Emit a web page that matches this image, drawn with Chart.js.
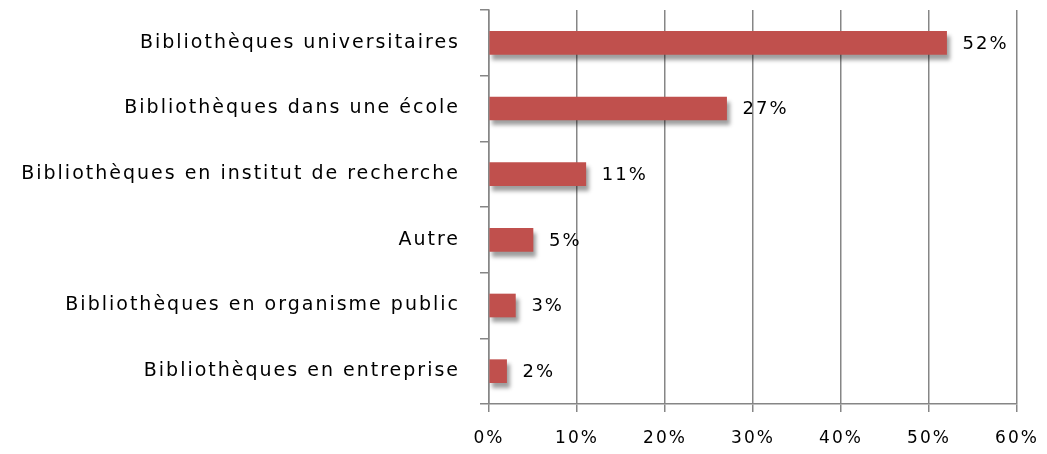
<!DOCTYPE html>
<html>
<head>
<meta charset="utf-8">
<script src="https://cdn.jsdelivr.net/npm/chart.js@4"></script>
<style>
  html, body { margin: 0; padding: 0; background: #fff; }
  #wrap { width: 1047px; height: 454px; }
</style>
</head>
<body>
<div id="wrap"><canvas id="chart" width="1047" height="454"></canvas></div>
<script>
// chart data
const categories = [
  'Bibliothèques universitaires',
  'Bibliothèques dans une école',
  'Bibliothèques en institut de recherche',
  'Autre',
  'Bibliothèques en organisme public',
  'Bibliothèques en entreprise'
];
const shares = [52, 27, 11, 5, 3, 2];
const xTicks = [0, 10, 20, 30, 40, 50, 60];

const FONT = 'DejaVu Sans';
const GRID = '#868686';

// the reference text is widely spaced
const spacing = {
  id: 'spacing',
  beforeLayout(chart) { chart.ctx.letterSpacing = '2px'; },
  beforeDraw(chart) { chart.ctx.letterSpacing = '2px'; }
};

// soft drop shadow under the bars
const barShadow = {
  id: 'barShadow',
  beforeDatasetsDraw(chart) {
    const ctx = chart.ctx;
    ctx.save();
    ctx.shadowColor = 'rgba(0,0,0,0.38)';
    ctx.shadowOffsetX = 3;
    ctx.shadowOffsetY = 5;
    ctx.shadowBlur = 4;
  },
  afterDatasetsDraw(chart) {
    chart.ctx.restore();
  }
};

// value labels at the end of each bar
const endLabels = {
  id: 'endLabels',
  afterDatasetsDraw(chart) {
    const ctx = chart.ctx;
    const meta = chart.getDatasetMeta(0);
    ctx.save();
    ctx.font = '18px "' + FONT + '"';
    ctx.fillStyle = '#000';
    ctx.textAlign = 'left';
    ctx.textBaseline = 'middle';
    meta.data.forEach((bar, i) => {
      ctx.fillText(shares[i] + '%', bar.x + 16, bar.y + 1);
    });
    ctx.restore();
  }
};

new Chart(document.getElementById('chart'), {
  type: 'bar',
  data: {
    labels: categories,
    datasets: [{
      data: shares,
      backgroundColor: '#C0504D',
      borderWidth: 0,
      barThickness: 23
    }]
  },
  options: {
    indexAxis: 'y',
    responsive: false,
    animation: false,
    layout: { padding: { left: 0, right: 30, top: 10, bottom: 0 } },
    plugins: { legend: { display: false }, tooltip: { enabled: false } },
    scales: {
      x: {
        min: 0,
        max: 60,
        afterBuildTicks: s => { s.ticks = xTicks.map(v => ({ value: v })); },
        afterFit: s => { s.height = 50; s.paddingLeft = 0; s.paddingRight = 0; },
        grid: { color: GRID, lineWidth: 1.5, tickLength: 8 },
        border: { color: GRID, width: 1.5 },
        ticks: {
          padding: 16,
          color: '#000',
          font: { family: FONT, size: 17 },
          callback: v => v + '%'
        }
      },
      y: {
        afterFit: s => { s.width = 489; s.paddingTop = 0; s.paddingBottom = 0; },
        grid: { color: GRID, lineWidth: 1.5, drawOnChartArea: false, tickLength: 9 },
        border: { color: GRID, width: 1.5 },
        ticks: {
          padding: 20,
          color: '#000',
          font: { family: FONT, size: 19 }
        }
      }
    }
  },
  plugins: [spacing, barShadow, endLabels]
});
</script>
</body>
</html>
